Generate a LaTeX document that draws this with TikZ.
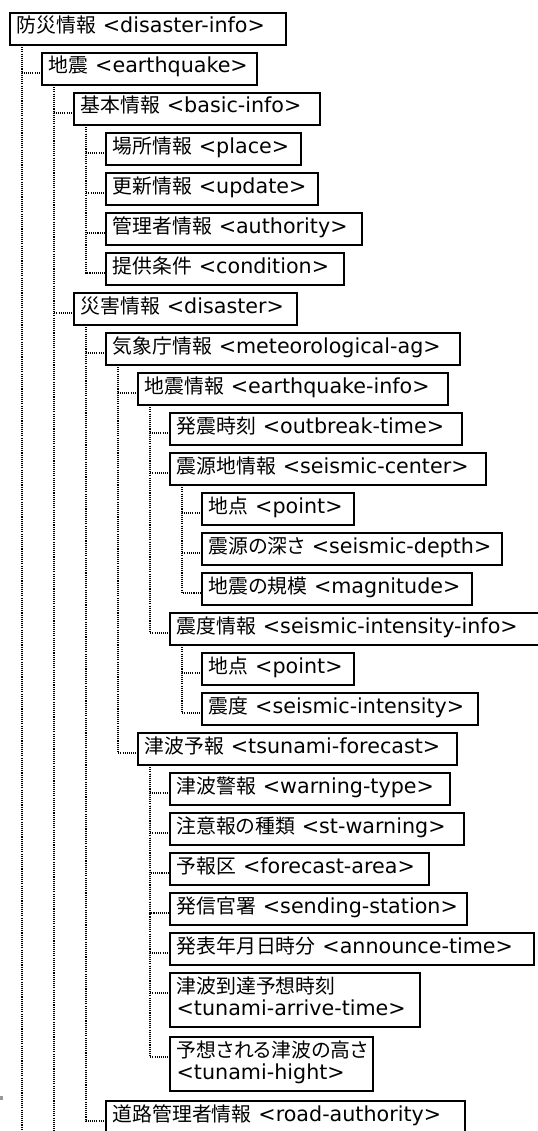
\documentclass[tikz,border=0pt]{standalone}
\usepackage{fontspec}
\setmainfont{DejaVu Sans}
\newfontfamily\jp[Scale=0.96,RawFeature=+palt]{Noto Sans CJK JP}
\newcommand{\elem}[2]{\mbox{{\jp #1} <#2>}}
\newcommand{\elemii}[2]{{\jp #1}\\<#2>}

\begin{document}
\begin{tikzpicture}[x=0.75pt,y=0.75pt,yscale=-1,xscale=1,
  box/.style={draw, line width=1.2pt, anchor=north west, outer sep=0pt, inner xsep=5pt, inner ysep=0pt,
    text height=15pt, text depth=9pt, align=left, font=\fontsize{15.5pt}{16.5pt}\selectfont},
  two/.style={text depth=25.5pt},
  tree/.style={line width=0.85pt, black, dash pattern=on 0.8pt off 0.8pt}]
\useasboundingbox (0,0) rectangle (537,1131);

% Text Node
\node[box, text width=197pt] (info) at (10,13) {\elem{防災情報}{disaster-info}};
% Text Node
\node[box, text width=151.25pt] (eq) at (42,53) {\elem{地震}{earthquake}};
% Text Node
\node[box, text width=174.5pt] (basic) at (74,93) {\elem{基本情報}{basic-info}};
% Text Node
\node[box, text width=136.25pt] (place) at (106,133) {\elem{場所情報}{place}};
% Text Node
\node[box, text width=149pt] (update) at (106,173) {\elem{更新情報}{update}};
% Text Node
\node[box, text width=182pt] (auth) at (106,213) {\elem{管理者情報}{authority}};
% Text Node
\node[box, text width=168.5pt] (cond) at (106,253) {\elem{提供条件}{condition}};
% Text Node
\node[box, text width=157.25pt] (dis) at (74,293) {\elem{災害情報}{disaster}};
% Text Node
\node[box, text width=255.5pt] (met) at (106,333) {\elem{気象庁情報}{meteorological-ag}};
% Text Node
\node[box, text width=222.5pt] (eqinfo) at (138,373) {\elem{地震情報}{earthquake-info}};
% Text Node
\node[box, text width=209pt] (otime) at (170,413) {\elem{発震時刻}{outbreak-time}};
% Text Node
\node[box, text width=227pt] (center) at (170,453) {\elem{震源地情報}{seismic-center}};
% Text Node
\node[box, text width=104pt] (pointa) at (202,493) {\elem{地点}{point}};
% Text Node
\node[box, text width=215pt] (depth) at (202,533) {\elem{震源の深さ}{seismic-depth}};
% Text Node
\node[box, text width=192.5pt] (magn) at (202,573) {\elem{地震の規模}{magnitude}};
% Text Node
\node[box, text width=271.25pt] (sint) at (170,613) {\elem{震度情報}{seismic-intensity-info}};
% Text Node
\node[box, text width=104pt] (pointb) at (202,653) {\elem{地点}{point}};
% Text Node
\node[box, text width=197pt] (inten) at (202,693) {\elem{震度}{seismic-intensity}};
% Text Node
\node[box, text width=229.25pt] (tsu) at (138,733) {\elem{津波予報}{tsunami-forecast}};
% Text Node
\node[box, text width=200pt] (warn) at (170,773) {\elem{津波警報}{warning-type}};
% Text Node
\node[box, text width=210.5pt] (stwarn) at (170,813) {\elem{注意報の種類}{st-warning}};
% Text Node
\node[box, text width=184.25pt] (area) at (170,853) {\elem{予報区}{forecast-area}};
% Text Node
\node[box, text width=212.75pt] (station) at (170,893) {\elem{発信官署}{sending-station}};
% Text Node
\node[box, text width=263pt] (announce) at (170,933) {\elem{発表年月日時分}{announce-time}};
% Text Node
\node[box, two, text width=177.5pt] (arrive) at (170,973) {\elemii{津波到達予想時刻}{tunami-arrive-time}};
% Text Node
\node[box, two, text width=142.25pt] (hight) at (170,1037) {\elemii{予想される津波の高さ}{tunami-hight}};
% Text Node
\node[box, text width=259.25pt] (road) at (106,1101) {\elem{道路管理者情報}{road-authority}};

% lines running on below the picture
\coordinate (bot0) at (22,1140);
\coordinate (bot1) at (54,1140);

%Straight Lines
\draw[tree] ([xshift=9pt]info.south west) -- (bot0);
\draw[tree] ([xshift=9pt]info.south west) |- (eq.base west);
\draw[tree] ([xshift=9pt]eq.south west) -- (bot1);
\draw[tree] ([xshift=9pt]eq.south west) |- (basic.base west);
\draw[tree] ([xshift=9pt]eq.south west) |- (dis.base west);
%Straight Lines
\draw[tree] ([xshift=9pt]basic.south west) |- (place.base west);
\draw[tree] ([xshift=9pt]basic.south west) |- (update.base west);
\draw[tree] ([xshift=9pt]basic.south west) |- (auth.base west);
\draw[tree] ([xshift=9pt]basic.south west) |- (cond.base west);
%Straight Lines
\draw[tree] ([xshift=9pt]dis.south west) |- (met.base west);
\draw[tree] ([xshift=9pt]dis.south west) |- (road.base west);
\draw[tree] ([xshift=9pt]met.south west) |- (eqinfo.base west);
\draw[tree] ([xshift=9pt]met.south west) |- (tsu.base west);
%Straight Lines
\draw[tree] ([xshift=9pt]eqinfo.south west) |- (otime.base west);
\draw[tree] ([xshift=9pt]eqinfo.south west) |- (center.base west);
\draw[tree] ([xshift=9pt]eqinfo.south west) |- (sint.base west);
\draw[tree] ([xshift=9pt]center.south west) |- (pointa.base west);
\draw[tree] ([xshift=9pt]center.south west) |- (depth.base west);
\draw[tree] ([xshift=9pt]center.south west) |- (magn.base west);
\draw[tree] ([xshift=9pt]sint.south west) |- (pointb.base west);
\draw[tree] ([xshift=9pt]sint.south west) |- (inten.base west);
%Straight Lines
\draw[tree] ([xshift=9pt]tsu.south west) |- (warn.base west);
\draw[tree] ([xshift=9pt]tsu.south west) |- (stwarn.base west);
\draw[tree] ([xshift=9pt]tsu.south west) |- (area.base west);
\draw[tree] ([xshift=9pt]tsu.south west) |- (station.base west);
\draw[tree] ([xshift=9pt]tsu.south west) |- (announce.base west);
\draw[tree] ([xshift=9pt]tsu.south west) |- (arrive.base west);
\draw[tree] ([xshift=9pt]tsu.south west) |- (hight.base west);

%Shape: small grey mark at the left edge
\fill[black!40] (0,1096) rectangle (3,1100);
\end{tikzpicture}
\end{document}
